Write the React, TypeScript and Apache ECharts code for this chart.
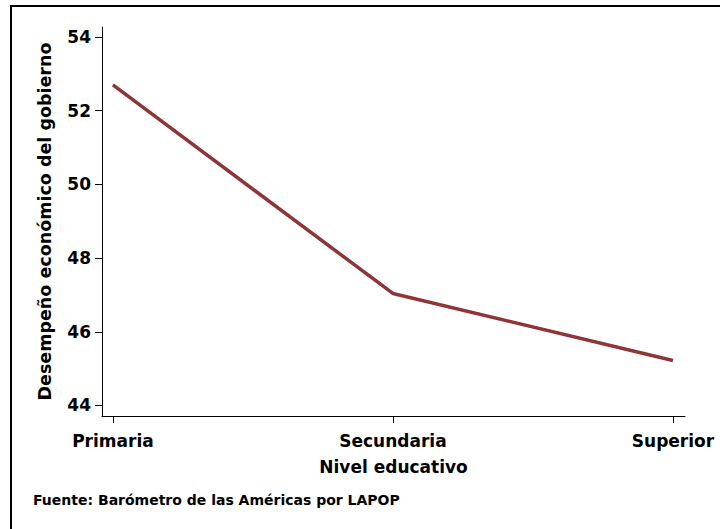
import React, { useEffect, useRef } from "react";
import * as echarts from "echarts";

const categories = ["Primaria", "Secundaria", "Superior"];
const values = [52.7, 47.04, 45.22];
const yTicks = [44, 46, 48, 50, 52, 54];
const xTicks = [0, 1, 2];
const yTitle = "Desempeño económico del gobierno";
const xTitle = "Nivel educativo";
const source = "Fuente: Barómetro de las Américas por LAPOP";

const FONT = "'DejaVu Sans', sans-serif";

export default function App() {
  const ref = useRef<HTMLDivElement>(null);
  useEffect(() => {
    if (!ref.current) return;
    const chart = echarts.init(ref.current, undefined, { renderer: "svg" });
    const data = values.map((v, i) => [i, v]);
    chart.setOption({
      animation: false,
      backgroundColor: "#ffffff",
      grid: { left: 102, top: 27, right: 35, bottom: 113 },
      xAxis: {
        type: "value",
        min: -0.039,
        max: 2.043,
        splitLine: { show: false },
        axisLine: { show: true, onZero: false, lineStyle: { color: "#000", width: 1 } },
        axisTick: { show: true, length: 7, customValues: xTicks, lineStyle: { color: "#000", width: 1 } },
        axisLabel: {
          customValues: xTicks,
          formatter: (v: number) => categories[Math.round(v)] ?? "",
          color: "#000",
          fontFamily: FONT,
          fontWeight: "bold",
          fontSize: 17,
          margin: 16,
        },
        name: xTitle,
        nameLocation: "middle",
        nameGap: 42,
        nameMoveOverlap: false,
        nameTextStyle: { color: "#000", fontFamily: FONT, fontWeight: "bold", fontSize: 17 },
      },
      yAxis: {
        type: "value",
        min: 43.715,
        max: 54.27,
        splitLine: { show: false },
        axisLine: { show: true, onZero: false, lineStyle: { color: "#000", width: 1 } },
        axisTick: { show: true, length: 7, customValues: yTicks, lineStyle: { color: "#000", width: 1 } },
        axisLabel: {
          customValues: yTicks,
          color: "#000",
          fontFamily: FONT,
          fontWeight: "bold",
          fontSize: 17,
          margin: 11,
        },
        name: yTitle,
        nameLocation: "middle",
        nameRotate: 90,
        nameGap: 48,
        nameMoveOverlap: false,
        nameTextStyle: { color: "#000", fontFamily: FONT, fontWeight: "bold", fontSize: 17.5 },
      },
      series: [
        {
          type: "line",
          data,
          symbol: "none",
          lineStyle: { color: "#8f3538", width: 3.5 },
        },
      ],
      graphic: [
        { type: "line", shape: { x1: 10, y1: 6, x2: 720, y2: 6 }, style: { stroke: "#000", lineWidth: 2 } },
        { type: "line", shape: { x1: 11, y1: 5, x2: 11, y2: 529 }, style: { stroke: "#000", lineWidth: 2 } },
        {
          type: "text",
          x: 33,
          y: 500,
          style: {
            text: source,
            fill: "#000",
            font: `bold 14px ${FONT}`,
            verticalAlign: "middle",
            align: "left",
          },
        },
      ],
    });
    return () => chart.dispose();
  }, []);
  return (
    <div
      ref={ref}
      style={{ position: "fixed", left: 0, top: 0, width: 720, height: 529, background: "#fff" }}
    />
  );
}
